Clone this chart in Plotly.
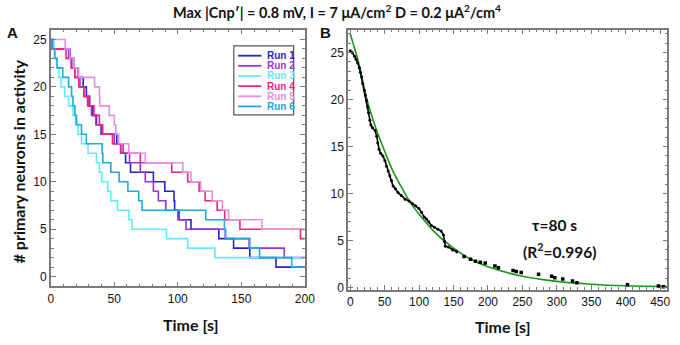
import plotly.graph_objects as go

W, H = 680, 345

# ---------------- Panel A data: step times (s) and neuron counts ----------------
run_names = ["Run 1", "Run 2", "Run 3", "Run 4", "Run 5", "Run 6"]
run_colors = ["#2424CC", "#9A33D6", "#62ECFA", "#F2247C", "#E290E0", "#22A6E2"]

run1_t = [0, 2, 15.2, 18, 21.6, 25.5, 28, 30.6, 33, 36, 39.6, 52, 55, 58.9, 62.8, 80.8, 89.8, 97, 97.5, 101, 110.4, 132.3, 143.9, 156.7, 177.3, 200]
run1_n = [25, 24, 23, 22, 21, 20, 19, 18, 17, 16, 15, 14, 13, 12, 11, 10, 9, 8, 7, 6, 5, 4, 3, 2, 1, 1]

run2_t = [0, 1, 14, 16.5, 19, 23, 26, 29, 32, 35.5, 40, 50, 57, 62, 70.5, 74.4, 80.8, 84.7, 90.6, 100.1, 106.5, 137.5, 156.2, 183.8, 200]
run2_n = [25, 24, 23, 22, 21, 20, 19, 18, 17, 16, 15, 14, 13, 12, 11, 10, 9, 8, 7, 6, 5, 4, 3, 2, 2]

run3_t = [0, 2.5, 3.5, 5, 6.5, 8, 11, 14, 17.5, 19.5, 21.5, 24.2, 29.3, 36, 38.3, 40, 44.8, 47.3, 52.5, 61.5, 64.1, 91.1, 107.8, 129.2, 200]
run3_n = [25, 24, 23, 22, 21, 20, 19, 18, 17, 16, 15, 14, 13, 12, 11, 10, 9, 8, 7, 6, 5, 4, 3, 2, 2]

run4_t = [0, 1, 12, 16, 19, 22, 26, 30, 34, 38.3, 40.9, 48.6, 55.1, 70.5, 95.2, 107.8, 116.8, 121.5, 131, 136.9, 148.9, 196.6, 200]
run4_n = [25, 24, 23, 22, 21, 20, 19, 18, 17, 16, 15, 14, 13, 12, 11, 10, 9, 8, 7, 6, 5, 4, 4]

run5_t = [0, 11.3, 15, 18, 22, 34.5, 38.3, 38.6, 46, 50, 51.2, 53.5, 61.5, 74.4, 103.9, 110.4, 118, 127.1, 135, 140, 166.2, 200]
run5_n = [25, 24, 23, 22, 21, 20, 19, 18, 17, 16, 15, 14, 13, 12, 11, 10, 9, 8, 7, 6, 5, 5]

run6_t = [0, 1, 3, 5, 9.4, 14, 16.4, 17.5, 19, 20.3, 24.2, 28, 40.4, 41, 47.3, 53.8, 60.7, 69.2, 71.8, 122, 136.7, 137.5, 156.7, 164.4, 189.7, 200]
run6_n = [25, 24, 23, 22, 21, 20, 19, 18, 17, 16, 15, 14, 13, 12, 11, 10, 9, 8, 7, 6, 5, 4, 3, 2, 1, 1]

runs_t = [run1_t, run2_t, run3_t, run4_t, run5_t, run6_t]
runs_n = [run1_n, run2_n, run3_n, run4_n, run5_n, run6_n]

# ---------------- Panel B data: averaged activity and exponential fit ----------------
avg_t = [0, 2.85, 6.2, 8.5, 10.9, 13.3, 14.7, 16.6, 18.0, 20.4, 21.8, 23.7, 25.2, 26.6, 28.5, 29.9,
         32.3, 36.1, 38.4, 39.9, 41.8, 44.1, 47.5, 50.3, 52.7, 55.1, 57.4, 59.8, 62.2, 65.5, 69.3,
         74.0, 79.7, 85.4, 90.2, 94.9, 99.7, 103.5, 107.3, 110.6, 113.9, 117.7, 122.4, 127.2, 131.9,
         135.3, 136.7, 138.1, 142.4, 148.6, 154.7]
avg_n = [25.2, 25.0, 24.6, 24.3, 23.9, 23.4, 22.9, 22.4, 21.7, 21.0, 20.5, 19.9, 19.2, 18.6, 17.8, 17.3,
         17.0, 16.7, 16.1, 15.4, 14.7, 14.3, 14.0, 13.5, 12.9, 12.4, 11.9, 11.4, 10.8, 10.5, 10.1,
         9.8, 9.4, 9.2, 8.9, 8.7, 8.4, 8.0, 7.5, 7.3, 7.0, 6.6, 6.4, 6.2, 6.0,
         5.6, 4.9, 4.4, 4.3, 4.0, 3.8]
late_t = [165.2, 174.7, 181.8, 188.9, 196, 210, 215, 236.4, 241, 248.2, 273.4, 292.4, 297, 308.5, 322.7, 329, 402.5, 447.5, 454.7]
late_n = [3.3, 3.0, 2.8, 2.7, 2.6, 2.3, 2.1, 1.8, 1.7, 1.6, 1.4, 1.2, 1.05, 0.9, 0.7, 0.5, 0.28, 0.17, 0.07]

fit_t = [0, 12.5, 25, 37.5, 50, 62.5, 75, 87.5, 100, 125, 150, 175, 200, 250, 300, 350, 400, 460]
fit_n = [27.0, 23.8, 19.8, 16.9, 14.5, 12.3, 10.6, 9.0, 7.8, 5.7, 4.2, 3.0, 2.2, 1.2, 0.65, 0.35, 0.18, 0.1]

fit_label = "\u03c4=80 s"
r2_label = "(R<sup>2</sup>=0.996)"
title_text = "Max |Cnp\u2032| = 0.8 mV, I = 7 \u03bcA/cm<sup>2</sup> D = 0.2 \u03bcA<sup>2</sup>/cm<sup>4</sup>"

# ---------------- Figure ----------------
fig = go.Figure()

for name, color, tt, nn in zip(run_names, run_colors, runs_t, runs_n):
    fig.add_trace(go.Scatter(x=tt, y=nn, mode="lines", line=dict(color=color, width=1.6, shape="hv"),
                             name=name, showlegend=False, xaxis="x", yaxis="y"))

fig.add_trace(go.Scatter(x=fit_t, y=fit_n, mode="lines", line=dict(color="#1E961E", width=1.6, shape="spline"),
                         showlegend=False, xaxis="x2", yaxis="y2"))
fig.add_trace(go.Scatter(x=avg_t, y=avg_n, mode="lines+markers", line=dict(color="black", width=1.6),
                         marker=dict(color="black", size=3), showlegend=False, xaxis="x2", yaxis="y2"))
fig.add_trace(go.Scatter(x=late_t, y=late_n, mode="markers",
                         marker=dict(color="black", size=3.5, symbol="square"), showlegend=False,
                         xaxis="x2", yaxis="y2"))

def px(x):
    return x / W

def py(y):
    return 1 - y / H

frame = "#7a7a7a"
tickfont = dict(family="Liberation Sans, Arial", size=12, color="#111")

def axis(domain, rng, dtick, minor_dtick, anchor):
    return dict(domain=domain, range=rng, dtick=dtick, tick0=0, showline=True, linecolor=frame,
                linewidth=1.5, mirror="ticks", ticks="inside", ticklen=5, tickwidth=1, tickcolor=frame,
                minor=dict(ticks="inside", ticklen=3, dtick=minor_dtick, tickcolor=frame, tickwidth=1),
                showgrid=False, zeroline=False, tickfont=tickfont, anchor=anchor)

ax_a = [px(48.7), px(307.7)]
ay_a = [py(290.7), py(30)]
ax_b = [px(351.7), px(677.3)]
ay_b = [py(294.3), py(30)]

fig.update_layout(
    width=W, height=H, margin=dict(l=0, r=0, t=0, b=0),
    paper_bgcolor="white", plot_bgcolor="white",
    xaxis=axis(ax_a, [0, 200], 50, 10, "y"),
    yaxis=axis(ay_a, [-1.04, 26.04], 5, 1, "x"),
    xaxis2=axis(ax_b, [-3.3, 460.4], 50, 10, "y2"),
    yaxis2=axis(ay_b, [-0.27, 27.45], 5, 1, "x2"),
)

bold = dict(family="Lato, Open Sans, sans-serif", size=16, color="#111")
ann = []
ann.append(dict(x=px(341), y=py(12), xref="paper", yref="paper", text="<b>" + title_text + "</b>",
                showarrow=False, font=dict(family="Lato, Open Sans, sans-serif", size=14.5, color="#111"),
                xanchor="center", yanchor="middle"))
ann.append(dict(x=px(10), y=py(33), xref="paper", yref="paper", text="<b>A</b>", showarrow=False,
                font=dict(family="Liberation Sans, Arial", size=15, color="#111"), xanchor="center", yanchor="middle"))
ann.append(dict(x=px(329), y=py(33), xref="paper", yref="paper", text="<b>B</b>", showarrow=False,
                font=dict(family="Liberation Sans, Arial", size=15, color="#111"), xanchor="center", yanchor="middle"))
ann.append(dict(x=px(16), y=py(164), xref="paper", yref="paper", text="<b># primary neurons in activity</b>",
                textangle=-90, showarrow=False, font=bold, xanchor="center", yanchor="middle"))
ann.append(dict(x=px(191.5), y=py(329), xref="paper", yref="paper", text="<b>Time [s]</b>",
                showarrow=False, font=bold, xanchor="center", yanchor="middle"))
ann.append(dict(x=px(510), y=py(331), xref="paper", yref="paper", text="<b>Time [s]</b>",
                showarrow=False, font=bold, xanchor="center", yanchor="middle"))
ann.append(dict(x=px(562), y=py(228), xref="paper", yref="paper", text="<b>" + fit_label + "</b>",
                showarrow=False, font=dict(family="Lato, Open Sans, sans-serif", size=15.5, color="#111"),
                xanchor="center", yanchor="middle"))
ann.append(dict(x=px(567), y=py(254), xref="paper", yref="paper", text="<b>" + r2_label + "</b>",
                showarrow=False, font=dict(family="Lato, Open Sans, sans-serif", size=15.5, color="#111"),
                xanchor="center", yanchor="middle"))

# manual legend box (panel A)
shapes = [dict(type="rect", xref="paper", yref="paper", x0=px(235.3), x1=px(296.3), y0=py(116.5), y1=py(46.5),
               line=dict(color="#555", width=1.2), fillcolor="white", layer="above")]
for i, (name, color) in enumerate(zip(run_names, run_colors)):
    yy = 56.5 + 10.3 * i
    shapes.append(dict(type="line", xref="paper", yref="paper", x0=px(239.7), x1=px(263.5), y0=py(yy), y1=py(yy),
                       line=dict(color=color, width=1.8), layer="above"))
    ann.append(dict(x=px(267.5), y=py(yy), xref="paper", yref="paper",
                    text="<b>" + name + "</b>", showarrow=False, xanchor="left", yanchor="middle",
                    font=dict(family="Liberation Sans, Arial", size=10, color=color)))

fig.update_layout(annotations=ann, shapes=shapes)
fig.write_html("out.html", config={"displayModeBar": False},
               post_script="document.body.style.margin='0px';document.body.style.padding='0px';")
